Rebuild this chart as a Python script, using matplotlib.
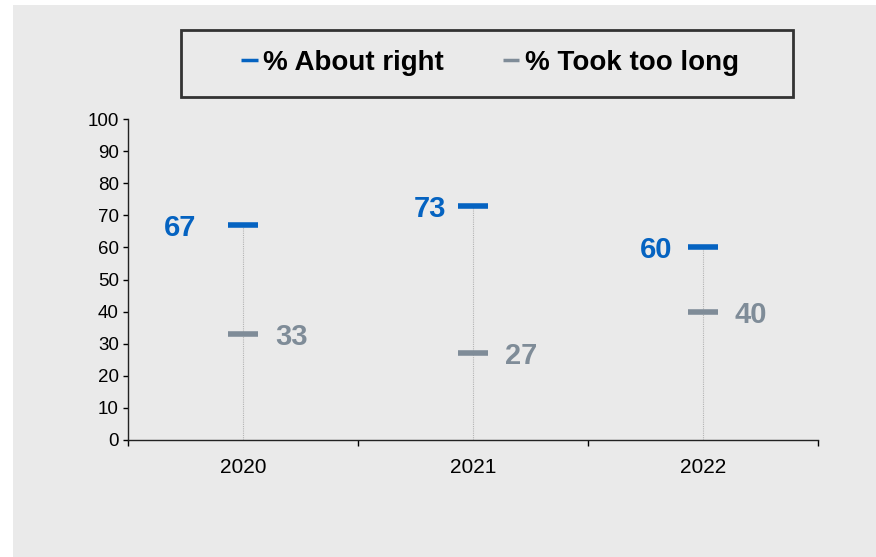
import matplotlib
matplotlib.use("Agg")
import matplotlib.pyplot as plt
from matplotlib.patches import Rectangle
from matplotlib.lines import Line2D

years = ["2020", "2021", "2022"]
about_right = [67, 73, 60]
took_too_long = [33, 27, 40]
series_names = ["% About right", "% Took too long"]
yticks = [0, 10, 20, 30, 40, 50, 60, 70, 80, 90, 100]

# label placement (points from marker centre)
about_offsets = [-34, -19, -22]
took_offsets = [23, 23, 23]

blue = "#0563C1"
grey = "#7F8C98"
plt.rcParams['font.family'] = ['Liberation Sans', 'DejaVu Sans']

W, H = 876, 557
fig = plt.figure(figsize=(W / 100, H / 100), dpi=100)
fig.patch.set_facecolor("white")
fig.patches.append(Rectangle((13 / W, 0), 1 - 13 / W, 1 - 5 / H, transform=fig.transFigure,
                             facecolor="#EAEAEA", edgecolor="none", zorder=-10))
# legend frame
fig.patches.append(Rectangle((181 / W, 1 - 97 / H), 612 / W, 67 / H, transform=fig.transFigure,
                             facecolor="none", edgecolor="#333333", linewidth=2, zorder=-5))

ax = fig.add_axes([128 / W, 1 - 440 / H, 690 / W, 321 / H])
ax.set_facecolor("none")
x = list(range(len(years)))
ax.set_xlim(-0.5, 2.5)
ax.set_ylim(0, 100)

# dotted connector lines
ax.vlines(x, 0, [max(a, b) for a, b in zip(about_right, took_too_long)],
          colors="#B4B4B4", linestyles=(0, (1, 1)), linewidth=0.8, zorder=1)

ax.scatter(x, about_right, marker="_", s=21.6 ** 2, linewidths=4, color=blue, zorder=3)
ax.scatter(x, took_too_long, marker="_", s=21.6 ** 2, linewidths=4, color=grey, zorder=3)

for xi, v, off in zip(x, about_right, about_offsets):
    ax.annotate(str(v), (xi, v), xytext=(off, 0), textcoords="offset points",
                ha="right", va="center_baseline", fontsize=21, fontweight="bold", color=blue)
for xi, v, off in zip(x, took_too_long, took_offsets):
    ax.annotate(str(v), (xi, v), xytext=(off, 0), textcoords="offset points",
                ha="left", va="center_baseline", fontsize=21, fontweight="bold", color=grey)

ax.set_yticks(yticks)
ax.set_yticklabels([str(t) for t in yticks], fontsize=13.5)
ax.set_xticks(x)
ax.set_xticklabels(years, fontsize=15)
ax.tick_params(axis="x", which="major", length=0, pad=13)
ax.set_xticks([-0.5, 0.5, 1.5, 2.5], minor=True)
ax.tick_params(axis="x", which="minor", length=4.5, direction="out", width=1)
ax.tick_params(axis="y", length=3.6, width=1, pad=3)
for s in ["top", "right"]:
    ax.spines[s].set_visible(False)
for s in ["left", "bottom"]:
    ax.spines[s].set_linewidth(1)
    ax.spines[s].set_color("#222222")

handles = [Line2D([], [], color=blue, linewidth=2.5, solid_capstyle="butt"),
           Line2D([], [], color=grey, linewidth=2.5, solid_capstyle="butt")]
leg = fig.legend(handles, series_names, loc="center", bbox_to_anchor=(490 / W, 1 - 63 / H),
                 ncol=2, frameon=False, handlelength=0.6, handletextpad=0.2,
                 columnspacing=2.1, prop={"weight": "bold", "size": 20})

fig.savefig("out.png", dpi=100)
